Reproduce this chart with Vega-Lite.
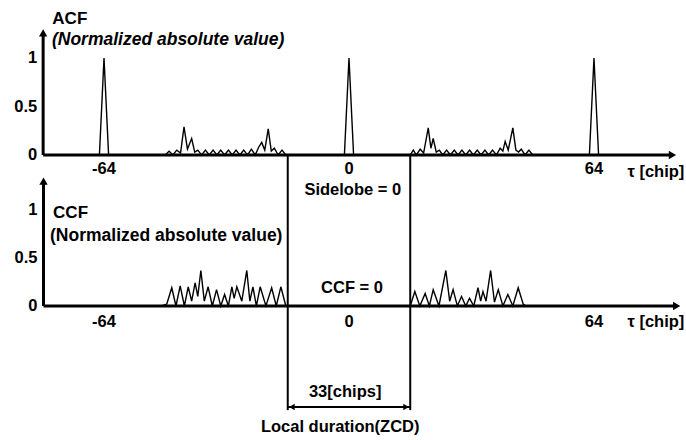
{
  "$schema": "https://vega.github.io/schema/vega-lite/v6.json",
  "width": 686,
  "height": 440,
  "autosize": {"type": "fit", "contains": "padding"},
  "padding": 0,
  "background": "white",
  "config": {
    "view": {"stroke": null},
    "text": {"font": "Liberation Sans", "fontWeight": "bold", "fontSize": 16.5, "color": "black", "baseline": "middle"}
  },
  "resolve": {"scale": {"y": "independent"}},
  "layer": [
    {
      "layer": [
        {
          "data": {"values": [
            {"tau": -65.2, "v": 0}, {"tau": -64, "v": 1}, {"tau": -62.8, "v": 0},
            {"tau": -48, "v": 0}, {"tau": -47, "v": 0.04}, {"tau": -46, "v": 0}, {"tau": -45, "v": 0.05}, {"tau": -44, "v": 0.02},
            {"tau": -43.1, "v": 0.29}, {"tau": -42.2, "v": 0.06}, {"tau": -41.1, "v": 0.17}, {"tau": -40.3, "v": 0.03},
            {"tau": -39.5, "v": 0.05}, {"tau": -38.5, "v": 0}, {"tau": -37.5, "v": 0.05}, {"tau": -36.5, "v": 0},
            {"tau": -35.5, "v": 0.05}, {"tau": -34.5, "v": 0}, {"tau": -33.5, "v": 0.05}, {"tau": -32.5, "v": 0},
            {"tau": -31.5, "v": 0.05}, {"tau": -30.5, "v": 0}, {"tau": -29.5, "v": 0.05}, {"tau": -28.5, "v": 0},
            {"tau": -27.5, "v": 0.05}, {"tau": -26.5, "v": 0}, {"tau": -25.5, "v": 0.06}, {"tau": -24.5, "v": 0},
            {"tau": -23.6, "v": 0.08}, {"tau": -22.8, "v": 0.13}, {"tau": -22, "v": 0.05}, {"tau": -21.1, "v": 0.27},
            {"tau": -20.3, "v": 0.04}, {"tau": -19.5, "v": 0.07}, {"tau": -18.5, "v": 0}, {"tau": -17.5, "v": 0.05},
            {"tau": -16.5, "v": 0},
            {"tau": -1.2, "v": 0}, {"tau": 0, "v": 1}, {"tau": 1.2, "v": 0},
            {"tau": 16, "v": 0}, {"tau": 16.8, "v": 0.05}, {"tau": 17.6, "v": 0}, {"tau": 18.6, "v": 0.06}, {"tau": 19.5, "v": 0.02},
            {"tau": 20.7, "v": 0.28}, {"tau": 21.4, "v": 0.07}, {"tau": 22, "v": 0.17}, {"tau": 22.8, "v": 0.03},
            {"tau": 23.6, "v": 0.05}, {"tau": 24.5, "v": 0}, {"tau": 25.5, "v": 0.05}, {"tau": 26.5, "v": 0},
            {"tau": 27.5, "v": 0.05}, {"tau": 28.5, "v": 0}, {"tau": 29.5, "v": 0.05}, {"tau": 30.5, "v": 0},
            {"tau": 31.5, "v": 0.05}, {"tau": 32.5, "v": 0}, {"tau": 33.5, "v": 0.05}, {"tau": 34.5, "v": 0},
            {"tau": 35.5, "v": 0.05}, {"tau": 36.5, "v": 0}, {"tau": 37.5, "v": 0.05}, {"tau": 38.5, "v": 0},
            {"tau": 39.5, "v": 0.07}, {"tau": 40.2, "v": 0.04}, {"tau": 40.8, "v": 0.14}, {"tau": 41.6, "v": 0.05},
            {"tau": 42.8, "v": 0.28}, {"tau": 43.6, "v": 0.05}, {"tau": 44.3, "v": 0.03}, {"tau": 45, "v": 0.06},
            {"tau": 46, "v": 0}, {"tau": 47, "v": 0.05}, {"tau": 48, "v": 0},
            {"tau": 62.8, "v": 0}, {"tau": 64, "v": 1}, {"tau": 65.2, "v": 0}
          ]},
          "mark": {"type": "line", "color": "black", "strokeWidth": 1.4},
          "encoding": {
            "x": {"field": "tau", "type": "quantitative", "axis": null, "scale": {"domain": [-91.17, 88.04], "nice": false, "zero": false}},
            "y": {"field": "v", "type": "quantitative", "axis": null, "scale": {"domain": [-2.938, 1.598], "nice": false, "zero": false}}
          }
        },
        {
          "data": {"values": [
            {"x": -79.9, "x2": 84.5, "y": 0, "y2": 0},
            {"x": -79.9, "x2": -79.9, "y": 0, "y2": 1.26}
          ]},
          "mark": {"type": "rule", "color": "black", "strokeWidth": 3},
          "encoding": {
            "x": {"field": "x", "type": "quantitative", "axis": null, "scale": {"domain": [-91.17, 88.04], "nice": false, "zero": false}},
            "x2": {"field": "x2"},
            "y": {"field": "y", "type": "quantitative", "axis": null, "scale": {"domain": [-2.938, 1.598], "nice": false, "zero": false}},
            "y2": {"field": "y2"}
          }
        },
        {
          "data": {"values": [
            {"x": -16, "x2": -16, "y": 0, "y2": -2.63},
            {"x": 16, "x2": 16, "y": 0, "y2": -2.63}
          ]},
          "mark": {"type": "rule", "color": "black", "strokeWidth": 2},
          "encoding": {
            "x": {"field": "x", "type": "quantitative", "axis": null, "scale": {"domain": [-91.17, 88.04], "nice": false, "zero": false}},
            "x2": {"field": "x2"},
            "y": {"field": "y", "type": "quantitative", "axis": null, "scale": {"domain": [-2.938, 1.598], "nice": false, "zero": false}},
            "y2": {"field": "y2"}
          }
        },
        {
          "data": {"values": [
            {"x": -79.9, "y": 1.26, "dir": "up"},
            {"x": 84.5, "y": 0, "dir": "right"}
          ]},
          "mark": {"type": "point", "filled": true, "color": "black", "size": 70, "opacity": 1},
          "encoding": {
            "x": {"field": "x", "type": "quantitative", "axis": null, "scale": {"domain": [-91.17, 88.04], "nice": false, "zero": false}},
            "y": {"field": "y", "type": "quantitative", "axis": null, "scale": {"domain": [-2.938, 1.598], "nice": false, "zero": false}},
            "shape": {"field": "dir", "type": "nominal", "legend": null, "scale": {"domain": ["up", "right", "left"], "range": ["triangle-up", "triangle-right", "triangle-left"]}}
          }
        },
        {
          "data": {"values": [
            {"tau": -64, "v": 0, "label": "-64"},
            {"tau": 0, "v": 0, "label": "0"},
            {"tau": 64, "v": 0, "label": "64"}
          ]},
          "mark": {"type": "text", "align": "center", "dy": 14},
          "encoding": {
            "x": {"field": "tau", "type": "quantitative", "axis": null, "scale": {"domain": [-91.17, 88.04], "nice": false, "zero": false}},
            "y": {"field": "v", "type": "quantitative", "axis": null, "scale": {"domain": [-2.938, 1.598], "nice": false, "zero": false}},
            "text": {"field": "label"}
          }
        },
        {
          "data": {"values": [
            {"tau": -79.9, "v": 1, "label": "1"},
            {"tau": -79.9, "v": 0.5, "label": "0.5"},
            {"tau": -79.9, "v": 0, "label": "0"}
          ]},
          "mark": {"type": "text", "align": "right", "dx": -6},
          "encoding": {
            "x": {"field": "tau", "type": "quantitative", "axis": null, "scale": {"domain": [-91.17, 88.04], "nice": false, "zero": false}},
            "y": {"field": "v", "type": "quantitative", "axis": null, "scale": {"domain": [-2.938, 1.598], "nice": false, "zero": false}},
            "text": {"field": "label"}
          }
        },
        {
          "data": {"values": [
            {"tau": -77.5, "v": 1.407, "label": "ACF"}
          ]},
          "mark": {"type": "text", "align": "left", "fontSize": 17},
          "encoding": {
            "x": {"field": "tau", "type": "quantitative", "axis": null, "scale": {"domain": [-91.17, 88.04], "nice": false, "zero": false}},
            "y": {"field": "v", "type": "quantitative", "axis": null, "scale": {"domain": [-2.938, 1.598], "nice": false, "zero": false}},
            "text": {"field": "label"}
          }
        },
        {
          "data": {"values": [
            {"tau": -77.6, "v": 1.186, "label": "(Normalized absolute value)"}
          ]},
          "mark": {"type": "text", "align": "left", "fontStyle": "italic", "fontSize": 17.5},
          "encoding": {
            "x": {"field": "tau", "type": "quantitative", "axis": null, "scale": {"domain": [-91.17, 88.04], "nice": false, "zero": false}},
            "y": {"field": "v", "type": "quantitative", "axis": null, "scale": {"domain": [-2.938, 1.598], "nice": false, "zero": false}},
            "text": {"field": "label"}
          }
        },
        {
          "data": {"values": [
            {"tau": 1, "v": -0.361, "label": "Sidelobe = 0"}
          ]},
          "mark": {"type": "text", "align": "center"},
          "encoding": {
            "x": {"field": "tau", "type": "quantitative", "axis": null, "scale": {"domain": [-91.17, 88.04], "nice": false, "zero": false}},
            "y": {"field": "v", "type": "quantitative", "axis": null, "scale": {"domain": [-2.938, 1.598], "nice": false, "zero": false}},
            "text": {"field": "label"}
          }
        },
        {
          "data": {"values": [
            {"tau": 87.6, "v": 0, "label": "τ [chip]"}
          ]},
          "mark": {"type": "text", "align": "right", "dy": 17},
          "encoding": {
            "x": {"field": "tau", "type": "quantitative", "axis": null, "scale": {"domain": [-91.17, 88.04], "nice": false, "zero": false}},
            "y": {"field": "v", "type": "quantitative", "axis": null, "scale": {"domain": [-2.938, 1.598], "nice": false, "zero": false}},
            "text": {"field": "label"}
          }
        }
      ]
    },
    {
      "layer": [
        {
          "data": {"values": [
            {"tau": -49, "v": 0}, {"tau": -47.6, "v": 0.02}, {"tau": -46.3, "v": 0.19}, {"tau": -45.2, "v": 0},
            {"tau": -44.1, "v": 0.21}, {"tau": -43, "v": 0}, {"tau": -42, "v": 0.2}, {"tau": -41.1, "v": 0.05},
            {"tau": -40.2, "v": 0.24}, {"tau": -39.5, "v": 0.1}, {"tau": -38.7, "v": 0.37}, {"tau": -37.8, "v": 0.05},
            {"tau": -36.8, "v": 0.2}, {"tau": -35.7, "v": 0}, {"tau": -34.6, "v": 0.17}, {"tau": -33.5, "v": 0},
            {"tau": -32.5, "v": 0.12}, {"tau": -31.5, "v": 0}, {"tau": -30.6, "v": 0.2}, {"tau": -30, "v": 0.08},
            {"tau": -29.3, "v": 0.2}, {"tau": -28, "v": 0.05}, {"tau": -26.7, "v": 0.37}, {"tau": -25.9, "v": 0.05},
            {"tau": -25.1, "v": 0.2}, {"tau": -24.2, "v": 0}, {"tau": -23.2, "v": 0.2}, {"tau": -21.7, "v": 0},
            {"tau": -20.2, "v": 0.19}, {"tau": -19, "v": 0}, {"tau": -17.8, "v": 0.2}, {"tau": -16.5, "v": 0},
            {"tau": 16, "v": 0}, {"tau": 17.2, "v": 0.15}, {"tau": 18.5, "v": 0}, {"tau": 19.9, "v": 0.13},
            {"tau": 21, "v": 0}, {"tau": 22, "v": 0.17}, {"tau": 23.5, "v": 0}, {"tau": 25.3, "v": 0.37},
            {"tau": 26.3, "v": 0.05}, {"tau": 27.2, "v": 0.17}, {"tau": 28.3, "v": 0}, {"tau": 29.4, "v": 0.1},
            {"tau": 30.5, "v": 0}, {"tau": 31.5, "v": 0.08}, {"tau": 32.6, "v": 0}, {"tau": 33.7, "v": 0.19},
            {"tau": 34.4, "v": 0.05}, {"tau": 35, "v": 0.15}, {"tau": 35.8, "v": 0.05}, {"tau": 37, "v": 0.37},
            {"tau": 38, "v": 0.04}, {"tau": 39, "v": 0.17}, {"tau": 40.2, "v": 0}, {"tau": 41.5, "v": 0.12},
            {"tau": 42.8, "v": 0}, {"tau": 44.2, "v": 0.19}, {"tau": 45.5, "v": 0.02}, {"tau": 46.2, "v": 0}
          ]},
          "mark": {"type": "line", "color": "black", "strokeWidth": 1.4},
          "encoding": {
            "x": {"field": "tau", "type": "quantitative", "axis": null, "scale": {"domain": [-91.17, 88.04], "nice": false, "zero": false}},
            "y": {"field": "v", "type": "quantitative", "axis": null, "scale": {"domain": [-1.396, 3.1875], "nice": false, "zero": false}}
          }
        },
        {
          "data": {"values": [
            {"x": -79.8, "x2": 85.6, "y": 0, "y2": 0},
            {"x": -79.8, "x2": -79.8, "y": 0, "y2": 1.3}
          ]},
          "mark": {"type": "rule", "color": "black", "strokeWidth": 3},
          "encoding": {
            "x": {"field": "x", "type": "quantitative", "axis": null, "scale": {"domain": [-91.17, 88.04], "nice": false, "zero": false}},
            "x2": {"field": "x2"},
            "y": {"field": "y", "type": "quantitative", "axis": null, "scale": {"domain": [-1.396, 3.1875], "nice": false, "zero": false}},
            "y2": {"field": "y2"}
          }
        },
        {
          "data": {"values": [
            {"x": -16, "x2": 16, "y": -1.052, "y2": -1.052}
          ]},
          "mark": {"type": "rule", "color": "black", "strokeWidth": 2},
          "encoding": {
            "x": {"field": "x", "type": "quantitative", "axis": null, "scale": {"domain": [-91.17, 88.04], "nice": false, "zero": false}},
            "x2": {"field": "x2"},
            "y": {"field": "y", "type": "quantitative", "axis": null, "scale": {"domain": [-1.396, 3.1875], "nice": false, "zero": false}},
            "y2": {"field": "y2"}
          }
        },
        {
          "data": {"values": [
            {"x": -79.8, "y": 1.3, "dir": "up"},
            {"x": 85.6, "y": 0, "dir": "right"}
          ]},
          "mark": {"type": "point", "filled": true, "color": "black", "size": 70, "opacity": 1},
          "encoding": {
            "x": {"field": "x", "type": "quantitative", "axis": null, "scale": {"domain": [-91.17, 88.04], "nice": false, "zero": false}},
            "y": {"field": "y", "type": "quantitative", "axis": null, "scale": {"domain": [-1.396, 3.1875], "nice": false, "zero": false}},
            "shape": {"field": "dir", "type": "nominal", "legend": null, "scale": {"domain": ["up", "right", "left"], "range": ["triangle-up", "triangle-right", "triangle-left"]}}
          }
        },
        {
          "data": {"values": [
            {"x": -14.9, "y": -1.052, "dir": "left"},
            {"x": 14.9, "y": -1.052, "dir": "right"}
          ]},
          "mark": {"type": "point", "filled": true, "color": "black", "size": 40, "opacity": 1},
          "encoding": {
            "x": {"field": "x", "type": "quantitative", "axis": null, "scale": {"domain": [-91.17, 88.04], "nice": false, "zero": false}},
            "y": {"field": "y", "type": "quantitative", "axis": null, "scale": {"domain": [-1.396, 3.1875], "nice": false, "zero": false}},
            "shape": {"field": "dir", "type": "nominal", "legend": null, "scale": {"domain": ["up", "right", "left"], "range": ["triangle-up", "triangle-right", "triangle-left"]}}
          }
        },
        {
          "data": {"values": [
            {"tau": -64, "v": 0, "label": "-64"},
            {"tau": 0, "v": 0, "label": "0"},
            {"tau": 64, "v": 0, "label": "64"}
          ]},
          "mark": {"type": "text", "align": "center", "dy": 16},
          "encoding": {
            "x": {"field": "tau", "type": "quantitative", "axis": null, "scale": {"domain": [-91.17, 88.04], "nice": false, "zero": false}},
            "y": {"field": "v", "type": "quantitative", "axis": null, "scale": {"domain": [-1.396, 3.1875], "nice": false, "zero": false}},
            "text": {"field": "label"}
          }
        },
        {
          "data": {"values": [
            {"tau": -79.8, "v": 1, "label": "1"},
            {"tau": -79.8, "v": 0.5, "label": "0.5"},
            {"tau": -79.8, "v": 0, "label": "0"}
          ]},
          "mark": {"type": "text", "align": "right", "dx": -6},
          "encoding": {
            "x": {"field": "tau", "type": "quantitative", "axis": null, "scale": {"domain": [-91.17, 88.04], "nice": false, "zero": false}},
            "y": {"field": "v", "type": "quantitative", "axis": null, "scale": {"domain": [-1.396, 3.1875], "nice": false, "zero": false}},
            "text": {"field": "label"}
          }
        },
        {
          "data": {"values": [
            {"tau": -77.3, "v": 0.969, "label": "CCF"}
          ]},
          "mark": {"type": "text", "align": "left", "fontSize": 17},
          "encoding": {
            "x": {"field": "tau", "type": "quantitative", "axis": null, "scale": {"domain": [-91.17, 88.04], "nice": false, "zero": false}},
            "y": {"field": "v", "type": "quantitative", "axis": null, "scale": {"domain": [-1.396, 3.1875], "nice": false, "zero": false}},
            "text": {"field": "label"}
          }
        },
        {
          "data": {"values": [
            {"tau": -78.1, "v": 0.729, "label": "(Normalized absolute value)"}
          ]},
          "mark": {"type": "text", "align": "left", "fontSize": 17.5},
          "encoding": {
            "x": {"field": "tau", "type": "quantitative", "axis": null, "scale": {"domain": [-91.17, 88.04], "nice": false, "zero": false}},
            "y": {"field": "v", "type": "quantitative", "axis": null, "scale": {"domain": [-1.396, 3.1875], "nice": false, "zero": false}},
            "text": {"field": "label"}
          }
        },
        {
          "data": {"values": [
            {"tau": 0.8, "v": 0.1875, "label": "CCF = 0"},
            {"tau": -1, "v": -0.896, "label": "33[chips]"},
            {"tau": -2.3, "v": -1.26, "label": "Local duration(ZCD)"}
          ]},
          "mark": {"type": "text", "align": "center"},
          "encoding": {
            "x": {"field": "tau", "type": "quantitative", "axis": null, "scale": {"domain": [-91.17, 88.04], "nice": false, "zero": false}},
            "y": {"field": "v", "type": "quantitative", "axis": null, "scale": {"domain": [-1.396, 3.1875], "nice": false, "zero": false}},
            "text": {"field": "label"}
          }
        },
        {
          "data": {"values": [
            {"tau": 87.6, "v": 0, "label": "τ [chip]"}
          ]},
          "mark": {"type": "text", "align": "right", "dy": 16},
          "encoding": {
            "x": {"field": "tau", "type": "quantitative", "axis": null, "scale": {"domain": [-91.17, 88.04], "nice": false, "zero": false}},
            "y": {"field": "v", "type": "quantitative", "axis": null, "scale": {"domain": [-1.396, 3.1875], "nice": false, "zero": false}},
            "text": {"field": "label"}
          }
        }
      ]
    }
  ]
}
